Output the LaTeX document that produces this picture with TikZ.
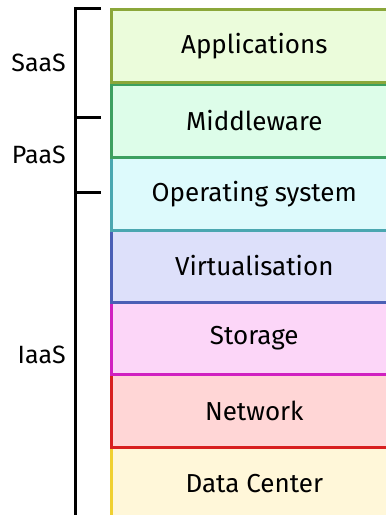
\documentclass[tikz,border=0pt]{standalone}
\usepackage{fontspec}
\setmainfont{Fira Sans}
\definecolor{appF}{HTML}{EBFCDB}\definecolor{appD}{HTML}{8BA73A}
\definecolor{midF}{HTML}{DDFDE9}\definecolor{midD}{HTML}{3DA060}
\definecolor{osF}{HTML}{DDFAFC}\definecolor{osD}{HTML}{4AA7B0}
\definecolor{virF}{HTML}{DDE0FA}\definecolor{virD}{HTML}{4A5FB5}
\definecolor{stoF}{HTML}{FCD6F8}\definecolor{stoD}{HTML}{D020C0}
\definecolor{netF}{HTML}{FFD6D6}\definecolor{netD}{HTML}{D82020}
\definecolor{dcF}{HTML}{FFF7D9}\definecolor{dcD}{HTML}{F0D030}
\begin{document}
\begin{tikzpicture}[x=1pt,y=1pt,
  layer/.style={draw=#1D, fill=#1F, line width=2.6pt, minimum width=286pt, minimum height=73pt, anchor=north west, inner sep=0pt, font=\fontsize{26}{30}\selectfont},
  brace/.style={line width=3pt},
  lab/.style={anchor=east, inner sep=0pt, font=\fontsize{25}{30}\selectfont}]
\useasboundingbox (0,0) rectangle (386,-515);
\begin{scope}
\clip (0,0) rectangle (386,-515);
\node[layer=dc]  (dc)  at (110,-446) {Data Center};
\node[layer=net] (net) at (110,-373) {Network};
\node[layer=sto] (sto) at (110,-300) {Storage};
\node[layer=vir] (vir) at (110,-228) {Virtualisation};
\node[layer=os]  (os)  at (110,-156) {Operating system};
\node[layer=mid] (mid) at (110,-83)  {Middleware};
\node[layer=app] (app) at (110,-8)   {Applications};
\end{scope}
\coordinate (t0) at (75,-8);   \coordinate (t0e) at (101,-8);
\coordinate (t1) at (75,-117); \coordinate (t1e) at (101,-117);
\coordinate (t2) at (75,-192); \coordinate (t2e) at (101,-192);
\coordinate (bot) at (75,-516);
\draw[brace] (t0e) -- (t0) -- (bot);
\draw[brace] (t1) -- (t1e);
\draw[brace] (t2) -- (t2e);
\node[lab] (saas) at (66,-63) {SaaS};
\node[lab] (paas) at (66,-155) {PaaS};
\node[lab] (iaas) at (66,-355) {IaaS};
\end{tikzpicture}
\end{document}
